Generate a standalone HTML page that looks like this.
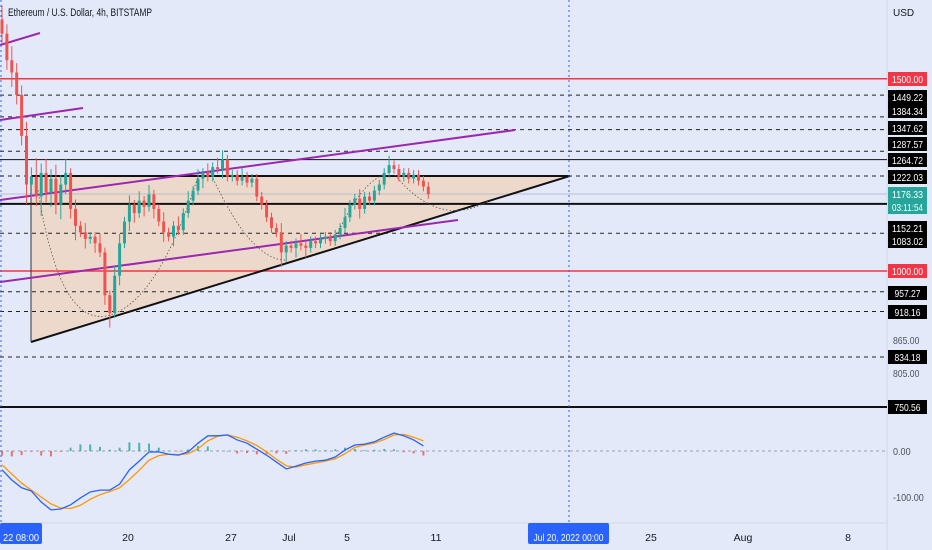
<!DOCTYPE html>
<html><head><meta charset="utf-8">
<style>
html,body{margin:0;padding:0;background:#e3e9f8;}
svg{display:block;font-family:"Liberation Sans Narrow","Liberation Sans",sans-serif;}
</style></head>
<body>
<svg id="chart" width="932" height="550" viewBox="0 0 932 550">
  <rect x="0" y="0" width="932" height="550" fill="#e3e9f8"/>
  <line x1="887" y1="0" x2="887" y2="550" stroke="#cfd6e8"/>
  <line x1="0" y1="523" x2="887" y2="523" stroke="#cfd6e8"/>
  <text x="8" y="16" font-size="11" fill="#131722" font-family="Liberation Sans, sans-serif" textLength="144" lengthAdjust="spacingAndGlyphs">Ethereum / U.S. Dollar, 4h, BITSTAMP</text>
  <text x="893" y="16" font-size="10" fill="#131722">USD</text>
  <g id="drawings"></g>
  <g id="candles"></g>
  <g id="macd"></g>
  <g id="axis"></g>
</svg>
<script>
// ---- data ----
const firstOpen = 1700;
const closes = [1650,1560,1520,1450,1330,1200,1220,1170,1230,1180,1215,1150,1200,1230,1140,1100,1085,1070,1075,1060,1040,950,915,990,1060,1110,1150,1130,1160,1145,1175,1140,1110,1085,1075,1100,1090,1130,1160,1185,1215,1230,1220,1245,1240,1265,1220,1225,1210,1220,1205,1215,1170,1150,1120,1095,1085,1040,1055,1050,1060,1055,1050,1065,1060,1070,1075,1065,1080,1095,1120,1150,1165,1140,1170,1160,1185,1200,1230,1250,1240,1220,1230,1215,1225,1210,1195,1176];
const wickUp = [3,2,3,2,2,3,2,4,2,3,2,3,2,3,1,2,1,2,1,1,2,1,1,2,2,1,2,1,2,1,2,1,1,2,1,1,2,1,2,1,2,1,2,1,2,2,1,1,1,2,1,1,1,1,1,1,1,2,1,1,1,2,1,1,1,1,1,1,1,1,2,1,1,2,1,1,1,1,1,2,1,1,1,1,1,1,1,1];
const wickDown = [2,2,3,2,2,4,3,2,4,2,3,2,3,2,2,3,1,2,1,2,1,2,3,1,2,1,2,2,1,2,1,2,1,2,1,2,1,1,1,1,1,2,1,1,1,2,1,1,1,1,1,1,1,1,1,1,1,3,2,1,2,1,2,1,1,1,1,1,1,1,1,1,1,2,1,1,1,1,1,1,1,1,1,1,1,1,1,1];
const macdLine = [-41,-63,-80,-87,-111,-128,-126,-117,-102,-89,-85,-85,-72,-41,-22,-2,-2,-7,-9,-2,17,33,33,35,24,17,4,-9,-24,-39,-33,-26,-22,-20,-13,2,13,15,20,30,39,33,24,11];
const signalLine = [-30,-50,-70,-85,-100,-115,-124,-125,-118,-105,-95,-88,-80,-62,-42,-20,-10,-7,-8,-6,5,22,32,35,30,22,12,-2,-18,-32,-35,-30,-26,-22,-17,-6,8,13,17,25,35,36,30,22];
const levelsSolid = [1264.72,1152.21,750.56];
const levelsDashed = [1449.22,1384.34,1347.62,1287.57,1222.03,1083.02,957.27,918.16,834.18];
const levelsRed = [1500,1000];
const priceLabels = ["1500.00","1449.22","1384.34","1347.62","1287.57","1264.72","1222.03","1152.21","1083.02","1000.00","957.27","918.16","834.18","750.56"];
const labelY = [79,97,111,128,144,160,177,228,241,271,293,312,357,407];
const plainLabels = ["865.00","805.00","0.00","-100.00"];
const plainY = [340,373,451,497];
const timeLabels = ["20","27","Jul","5","11","25","Aug","8"];
const timeX = [128,231,289,347,436,651,743,848];

// ---- scales ----
const NS="http://www.w3.org/2000/svg";
const W=887;
function y(p){return 271-474*Math.log(p/1000);}
function x(i){return 2+i*4.9;}
function xm(k){return 2+k*9.8;}
function ym(v){return 451-v*0.46;}
function mk(tag,attrs,parent){const e=document.createElementNS(NS,tag);for(const k in attrs)e.setAttribute(k,attrs[k]);parent.appendChild(e);return e;}

const dr=document.getElementById('drawings');
const tri=mk('polygon',{points:`31,${y(1222.03)} 570,${y(1222.03)} 31,342`,fill:'rgba(255,190,120,0.35)',stroke:'none'},dr);


levelsDashed.forEach(p=>{const l=mk('line',{x1:0,x2:W,y1:y(p),y2:y(p),stroke:'#222','stroke-width':1,'stroke-dasharray':'4,4'},dr);

});
levelsSolid.forEach(p=>{const l=mk('line',{x1:0,x2:W,y1:y(p),y2:y(p),stroke:'#111','stroke-width':p===1264.72?1:2},dr);

});
levelsRed.forEach(p=>{const l=mk('line',{x1:0,x2:W,y1:y(p),y2:y(p),stroke:'#f23645','stroke-width':1.5},dr);

});
const cur=mk('line',{x1:0,x2:W,y1:y(1176.33),y2:y(1176.33),stroke:'#b8c0cf','stroke-width':1},dr);


const tt=mk('line',{x1:31,x2:570,y1:y(1222.03),y2:y(1222.03),stroke:'#111','stroke-width':2},dr);


const tb=mk('line',{x1:31,x2:570,y1:342,y2:y(1222.03),stroke:'#111','stroke-width':2},dr);


const tl=mk('line',{x1:31,x2:31,y1:y(1222.03),y2:342,stroke:'#333','stroke-width':1},dr);


[[0,200,515,130],[0,282,458,220],[0,120,83,108],[0,45,40,33]].forEach(a=>{const l=mk('line',{x1:a[0],y1:a[1],x2:a[2],y2:a[3],stroke:'#9c27b0','stroke-width':2},dr);

});
['M38,190 Q60,330 110,315 Q160,300 200,170','M210,172 Q250,260 285,260','M335,240 Q360,180 390,172','M395,175 Q440,230 490,200'].forEach(d=>{const a=mk('path',{d:d,fill:'none',stroke:'#555','stroke-width':0.8,'stroke-dasharray':'1.5,2'},dr);

});
const vl=mk('line',{x1:569,x2:569,y1:0,y2:530,stroke:'#2962ff','stroke-width':1,'stroke-dasharray':'2,3'},dr);


const vl2=mk('line',{x1:1,x2:1,y1:0,y2:530,stroke:'#2962ff','stroke-width':1,'stroke-dasharray':'2,3'},dr);



// ---- candles ----
const cg=document.getElementById('candles');
closes.forEach((c,i)=>{
  const o=i===0?firstOpen:closes[i-1];
  const hi=Math.max(o,c)*(1+wickUp[i]/100), lo=Math.min(o,c)*(1-wickDown[i]/100);
  const col=c>=o?'#26a69a':'#ef5350';
  const w=mk('line',{x1:x(i),x2:x(i),y1:y(hi),y2:y(lo),stroke:col,'stroke-width':1},cg);
  
  
  const top=y(Math.max(o,c)),bot=y(Math.min(o,c));
  const b=mk('rect',{x:x(i)-1.5,y:top,width:3,height:Math.max(1,bot-top),fill:col},cg);
  
  
});

// ---- MACD ----
const mg=document.getElementById('macd');
const z=mk('line',{x1:0,x2:W,y1:ym(0),y2:ym(0),stroke:'#9aa3b5','stroke-dasharray':'3,3'},mg);


macdLine.forEach((v,k)=>{
  const h=(v-signalLine[k])*0.9;
  const col=h>=0?'#26a69a':'#ef5350';
  const r=mk('rect',{x:xm(k)-1,y:Math.min(ym(0),ym(h)),width:2,height:Math.max(0.5,Math.abs(ym(h)-ym(0))),fill:col,opacity:0.8},mg);
  
  
});
const sp=mk('polyline',{points:signalLine.map((v,k)=>xm(k)+','+ym(v)).join(' '),fill:'none',stroke:'#ff9800','stroke-width':1.3},mg);


const mp=mk('polyline',{points:macdLine.map((v,k)=>xm(k)+','+ym(v)).join(' '),fill:'none',stroke:'#2962ff','stroke-width':1.3},mg);



// ---- axes ----
const ag=document.getElementById('axis');
priceLabels.forEach((t,i)=>{
  const red=t==="1500.00"||t==="1000.00";
  const r=mk('rect',{x:888,y:labelY[i]-7,width:39,height:14,fill:red?'#f23645':'#000'},ag);
  
  
  const tx=mk('text',{x:907.5,y:labelY[i]+4,'font-size':10.5,fill:'#fff','text-anchor':'middle',textLength:t.length>6?31:26,lengthAdjust:'spacingAndGlyphs'},ag);
  tx.textContent=t;
  
  
});
const cb=mk('rect',{x:888,y:y(1176.33)-7,width:39,height:27,fill:'#26a69a'},ag);


[["1176.33",y(1176.33)+4],["03:11:54",y(1176.33)+17]].forEach(a=>{const tx=mk('text',{x:907.5,y:a[1],'font-size':10.5,fill:'#fff','text-anchor':'middle',textLength:31,lengthAdjust:'spacingAndGlyphs'},ag);
tx.textContent=a[0];

});
plainLabels.forEach((t,i)=>{const tx=mk('text',{x:893,y:plainY[i]+4,'font-size':10.5,fill:'#50535e',textLength:t.length*4.4,lengthAdjust:'spacingAndGlyphs'},ag);
tx.textContent=t;

});
timeLabels.forEach((t,i)=>{const tx=mk('text',{x:timeX[i],y:541,'font-size':10.5,fill:'#131722','text-anchor':'middle'},ag);
tx.textContent=t;

});
const b1=mk('rect',{x:0,y:523,width:42,height:21,rx:2,fill:'#2962ff'},ag);


const t1=mk('text',{x:21,y:541,'font-size':10.5,fill:'#fff','text-anchor':'middle',textLength:36,lengthAdjust:'spacingAndGlyphs'},ag);
t1.textContent='22  08:00';


const b2=mk('rect',{x:528,y:523,width:81,height:21,rx:2,fill:'#2962ff'},ag);


const t2=mk('text',{x:568.5,y:541,'font-size':10.5,fill:'#fff','text-anchor':'middle',textLength:70,lengthAdjust:'spacingAndGlyphs'},ag);
t2.textContent='Jul 20, 2022   00:00';


</script>
</body></html>
